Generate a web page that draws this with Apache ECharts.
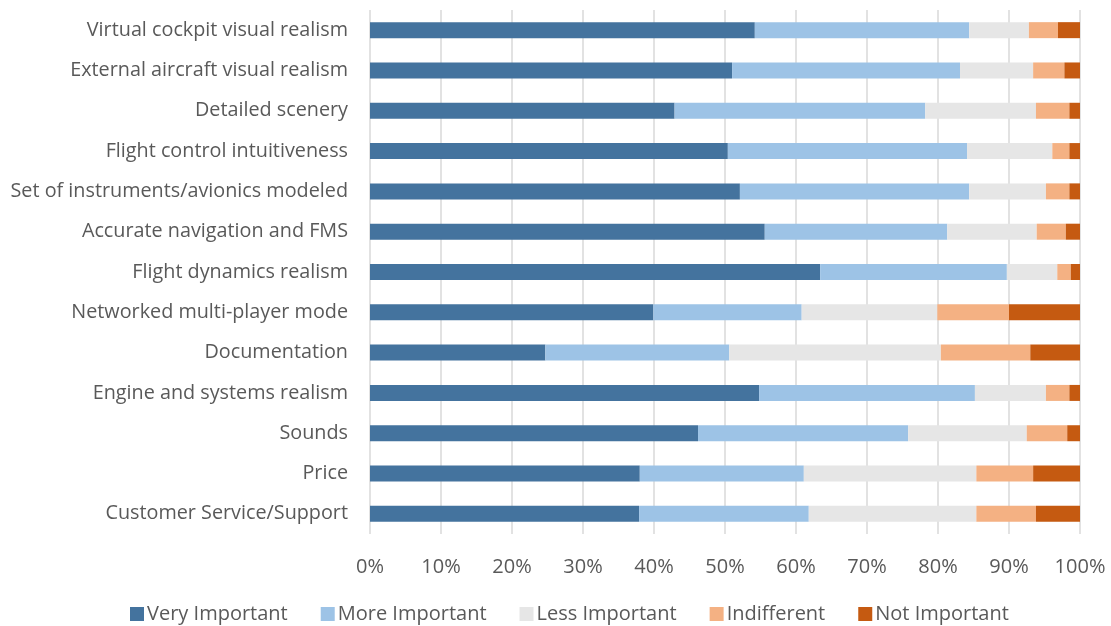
<!DOCTYPE html>
<html>
<head>
<meta charset="utf-8">
<script src="https://cdn.jsdelivr.net/npm/echarts@6/dist/echarts.min.js"></script>
<style>
  html, body { margin: 0; padding: 0; background: #fff; }
  #chart { width: 1111px; height: 626px; }
</style>
</head>
<body>
<div id="chart"></div>
<script>
// Survey features, listed top to bottom
const categories = [
  "Virtual cockpit visual realism",
  "External aircraft visual realism",
  "Detailed scenery",
  "Flight control intuitiveness",
  "Set of instruments/avionics modeled",
  "Accurate navigation and FMS",
  "Flight dynamics realism",
  "Networked multi-player mode",
  "Documentation",
  "Engine and systems realism",
  "Sounds",
  "Price",
  "Customer Service/Support"
];

// Share of responses per rating (percent)
const veryImportant = [54.2, 51.0, 42.9, 50.4, 52.1, 55.6, 63.4, 39.9, 24.7, 54.8, 46.2, 38.0, 37.9];
const moreImportant = [30.2, 32.1, 35.3, 33.7, 32.3, 25.7, 26.3, 20.9, 25.9, 30.4, 29.6, 23.1, 23.9];
const lessImportant = [8.4, 10.3, 15.6, 12.0, 10.8, 12.6, 7.1, 19.1, 29.8, 10.0, 16.7, 24.3, 23.6];
const indifferent   = [4.1, 4.4, 4.7, 2.4, 3.3, 4.1, 1.9, 10.1, 12.6, 3.3, 5.7, 8.0, 8.4];
const notImportant  = [3.1, 2.2, 1.5, 1.5, 1.5, 2.0, 1.3, 10.0, 7.0, 1.5, 1.8, 6.6, 6.2];

const xTicks = [0, 10, 20, 30, 40, 50, 60, 70, 80, 90, 100];

const seriesDefs = [
  { name: "Very Important", data: veryImportant, color: "#44739E" },
  { name: "More Important", data: moreImportant, color: "#9DC3E6" },
  { name: "Less Important", data: lessImportant, color: "#E6E6E6" },
  { name: "Indifferent",    data: indifferent,   color: "#F4B183" },
  { name: "Not Important",  data: notImportant,  color: "#C55A11" }
];

const FONT = "'Open Sans', sans-serif";
const chart = echarts.init(document.getElementById("chart"), null, { renderer: "canvas" });

chart.setOption({
  animation: false,
  textStyle: { fontFamily: FONT },
  grid: { left: 370, right: 31, top: 10, bottom: 92, containLabel: false },
  legend: {
    top: 604,
    left: 130,
    padding: 0,
    itemWidth: 14,
    itemHeight: 14,
    itemGap: 33,
    icon: 'rect',
    textStyle: { fontFamily: FONT, fontSize: 20, lineHeight: 20, color: "#595959", padding: [0, 0, 0, -2] },
    data: seriesDefs.map(s => s.name)
  },
  xAxis: {
    type: "value",
    min: 0,
    max: 100,
    interval: 10,
    axisLine: { show: false },
    axisTick: { show: false },
    splitLine: { show: true, lineStyle: { color: "#D9D9D9", width: 1.5 } },
    axisLabel: {
      color: "#595959",
      fontSize: 20,
      fontFamily: FONT,
      margin: 23,
      formatter: v => xTicks.includes(v) ? v + "%" : ""
    }
  },
  yAxis: {
    type: "category",
    inverse: true,
    data: categories,
    axisLine: { show: false },
    axisTick: { show: false },
    axisLabel: { color: "#595959", fontSize: 19.8, fontFamily: FONT, margin: 22 }
  },
  series: seriesDefs.map(s => ({
    name: s.name,
    type: "bar",
    stack: "total",
    barWidth: 16,
    data: s.data,
    itemStyle: { color: s.color },
    emphasis: { disabled: true }
  }))
});
</script>
</body>
</html>
